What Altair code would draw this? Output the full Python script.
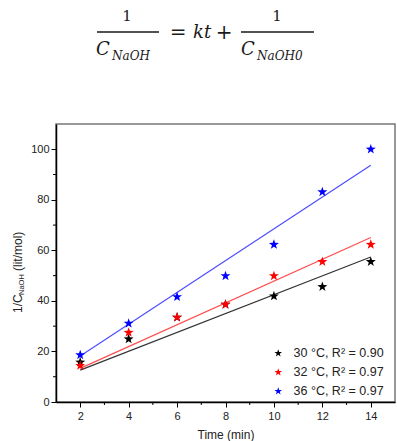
import altair as alt
import pandas as pd

# Measured 1/C_NaOH (lit/mol) against time (min) at three temperatures
time_min = [2, 4, 6, 8, 10, 12, 14]
inv_c_30 = [15.7, 24.9, 33.5, 38.6, 41.9, 45.6, 55.5]
inv_c_32 = [14.4, 27.5, 33.5, 38.6, 49.9, 55.5, 62.3]
inv_c_36 = [18.6, 31.1, 41.6, 49.9, 62.3, 83.1, 100.0]

# Straight-line fits, given by their end points
fit_time = [2, 14]
fit_30 = [12.6, 57.4]
fit_32 = [13.3, 65.1]
fit_36 = [18.2, 93.7]

series_labels = ["30 °C, R² = 0.90", "32 °C, R² = 0.97", "36 °C, R² = 0.97"]
series_colors = ["#000000", "#ff0000", "#0000ff"]
fit_colors = ["#333333", "#ff4d4d", "#4d4dff"]

x_major = [2, 4, 6, 8, 10, 12, 14]
x_minor = [3, 5, 7, 9, 11, 13]
y_major = [0, 20, 40, 60, 80, 100]
y_minor = [10, 30, 50, 70, 90]

STAR = ("M0,-1L0.235,-0.324L0.951,-0.309L0.38,0.124L0.588,0.809L0,0.4"
        "L-0.588,0.809L-0.38,0.124L-0.951,-0.309L-0.235,-0.324Z")

W, H = 339, 278
FONT = "Liberation Sans"
SERIF = "DejaVu Serif"
INK = "#1a1a1a"

points = pd.DataFrame({
    "t": time_min * 3,
    "v": inv_c_30 + inv_c_32 + inv_c_36,
    "series": sum([[s] * len(time_min) for s in series_labels], []),
})

fits = pd.DataFrame({
    "t": fit_time * 3,
    "v": fit_30 + fit_32 + fit_36,
    "series": sum([[s] * 2 for s in series_labels], []),
    "hex": sum([[c] * 2 for c in fit_colors], []),
})

x_scale = alt.Scale(domain=[1, 15], nice=False, zero=False)
y_scale = alt.Scale(domain=[0, 110], nice=False)

x_axis = alt.Axis(values=x_major, title="Time (min)", tickSize=5, labelPadding=3,
                  titlePadding=8, grid=False)
y_axis = alt.Axis(values=y_major, title=None, tickSize=5, labelPadding=2, grid=False)

fit_lines = alt.Chart(fits).mark_line(strokeWidth=1.2).encode(
    x=alt.X("t:Q", scale=x_scale, axis=x_axis),
    y=alt.Y("v:Q", scale=y_scale, axis=y_axis),
    detail="series:N",
    color=alt.Color("hex:N", scale=None),
)

stars = alt.Chart(points).mark_point(shape=STAR, filled=True, size=110, opacity=1).encode(
    x=alt.X("t:Q", scale=x_scale),
    y=alt.Y("v:Q", scale=y_scale),
    color=alt.Color(
        "series:N",
        scale=alt.Scale(domain=series_labels, range=series_colors),
        legend=alt.Legend(
            orient="none", legendX=216, legendY=223, title=None,
            symbolType=STAR, symbolSize=64, symbolStrokeWidth=0,
            labelFont=FONT, labelFontSize=12.5, labelColor="#222222",
            labelOffset=9, rowPadding=6, padding=0,
        ),
    ),
)

# Minor ticks on both axes
minor_x = alt.Chart(pd.DataFrame({"t": x_minor})).mark_rule(color="#000", strokeWidth=1).encode(
    x=alt.X("t:Q", scale=x_scale), y=alt.value(H), y2=alt.value(H + 3))
minor_y = alt.Chart(pd.DataFrame({"v": y_minor})).mark_rule(color="#000", strokeWidth=1).encode(
    y=alt.Y("v:Q", scale=y_scale), x=alt.value(-3), x2=alt.value(0))

one = pd.DataFrame({"k": [0]})


def txt(s, x, y, size, font=FONT, style="normal", align="left", baseline="alphabetic",
        angle=0, color="#222222"):
    return alt.Chart(one).mark_text(
        text=s, font=font, fontSize=size, fontStyle=style, align=align,
        baseline=baseline, angle=angle, color=color,
    ).encode(x=alt.value(x), y=alt.value(y))


def bar(x1, x2, y):
    return alt.Chart(one).mark_rule(color=INK, strokeWidth=1.4).encode(
        x=alt.value(x1), x2=alt.value(x2), y=alt.value(y))


# Rate-law equation above the plot (offsets relative to the plot origin)
ox, oy = -56, -124
eq = [
    txt("1", 127 + ox, 21 + oy, 15, font=SERIF, align="center", color=INK),
    bar(97 + ox, 159 + ox, 32 + oy),
    txt("C", 96 + ox, 55 + oy, 18, font=SERIF, style="italic", color=INK),
    txt("NaOH", 112 + ox, 60 + oy, 12, font=SERIF, style="italic", color=INK),
    txt("=", 178 + ox, 33 + oy, 20, font=SERIF, align="center", baseline="middle", color=INK),
    txt("kt", 193 + ox, 38 + oy, 18, font=SERIF, style="italic", color=INK),
    txt("+", 224 + ox, 33 + oy, 20, font=SERIF, align="center", baseline="middle", color=INK),
    txt("1", 277 + ox, 21 + oy, 15, font=SERIF, align="center", color=INK),
    bar(241 + ox, 314 + ox, 32 + oy),
    txt("C", 241 + ox, 55 + oy, 18, font=SERIF, style="italic", color=INK),
    txt("NaOH0", 257 + ox, 60 + oy, 12, font=SERIF, style="italic", color=INK),
]

# Y-axis title with subscript, rotated
ytitle = [
    txt("1/C", 18 + ox, 313 + oy, 12, angle=270, baseline="middle"),
    txt("NaOH", 22 + ox, 295 + oy, 7.5, angle=270, baseline="middle"),
    txt("(lit/mol)", 18 + ox, 271 + oy, 12, angle=270, baseline="middle"),
]

chart = alt.layer(
    fit_lines, stars, minor_x, minor_y, *eq, *ytitle
).properties(
    width=W, height=H,
    padding={"left": 56, "top": 124, "right": 2, "bottom": 39},
    autosize=alt.AutoSizeParams(type="none"),
    background="white",
).configure_view(
    stroke="#777777", strokeWidth=1.5,
).configure_axis(
    domainColor="#000000", domainWidth=1.5, tickColor="#000000", tickWidth=1,
    labelFont=FONT, labelFontSize=11, labelColor="#222222",
    titleFont=FONT, titleFontSize=12, titleColor="#222222", titleFontWeight="normal",
)

chart.save("out.html", embed_options={"renderer": "svg", "actions": False})
